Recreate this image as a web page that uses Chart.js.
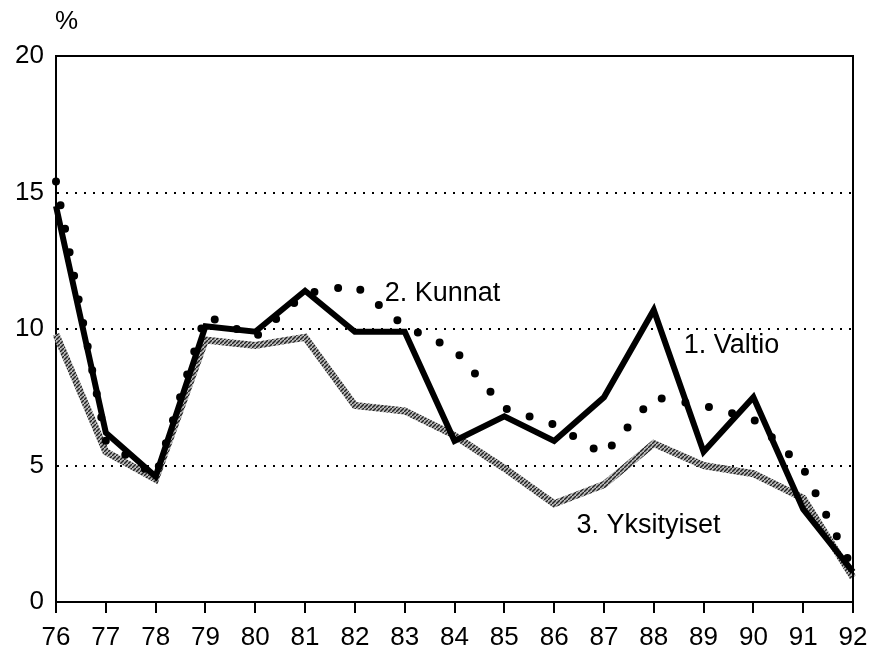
<!DOCTYPE html>
<html>
<head>
<meta charset="utf-8">
<script src="https://cdn.jsdelivr.net/npm/chart.js@4.4.0/dist/chart.umd.min.js"></script>
<style>
  body { margin: 0; background: #fff; }
  #wrap { width: 871px; height: 650px; }
</style>
</head>
<body>
<div id="wrap"><canvas id="lineChart"></canvas></div>
<script>
// vuodet 1976-1992
var years = ["76", "77", "78", "79", "80", "81", "82", "83", "84", "85", "86", "87", "88", "89", "90", "91", "92"];
var valtio = [14.5, 6.2, 4.6, 10.1, 9.9, 11.4, 9.9, 9.9, 5.9, 6.8, 5.9, 7.5, 10.7, 5.5, 7.5, 3.4, 1.1];
var kunnat = [15.4, 5.9, 4.6, 10.5, 9.7, 11.3, 11.6, 10.1, 9.25, 7.1, 6.5, 5.4, 7.5, 7.2, 6.7, 4.9, 1.2];
var yksityiset = [9.8, 5.5, 4.5, 9.6, 9.4, 9.7, 7.2, 7.0, 6.1, 4.9, 3.6, 4.3, 5.8, 5.0, 4.7, 3.8, 0.9];
var yTicks = [0, 5, 10, 15, 20];
var unitLabel = "%";
// line labels: text, x (category index), y (value)
var lineLabels = [
  { text: "2. Kunnat", x: 6.6, y: 11.3 },
  { text: "1. Valtio", x: 12.6, y: 9.4 },
  { text: "3. Yksityiset", x: 10.45, y: 2.8 }
];

var FONT = "'Liberation Sans', Arial, sans-serif";

function hatch() {
  var c = document.createElement("canvas");
  c.width = 4;
  c.height = 4;
  var g = c.getContext("2d");
  g.fillStyle = "#b8b8b8";
  g.fillRect(0, 0, 4, 4);
  g.strokeStyle = "#222";
  g.lineWidth = 1.4;
  g.beginPath();
  g.moveTo(-1, 5);
  g.lineTo(5, -1);
  g.stroke();
  return g.createPattern(c, "repeat");
}

var framePlugin = {
  id: "frame",
  afterDraw: function (chart) {
    var ctx = chart.ctx, a = chart.chartArea;
    ctx.save();
    ctx.strokeStyle = "#000";
    ctx.lineWidth = 2;
    ctx.beginPath();
    ctx.moveTo(a.left, a.top);
    ctx.lineTo(a.right, a.top);
    ctx.lineTo(a.right, a.bottom);
    ctx.stroke();

    ctx.fillStyle = "#000";
    ctx.font = "26px " + FONT;
    ctx.textBaseline = "middle";
    ctx.textAlign = "left";
    ctx.fillText(unitLabel, a.left - 1, 22);

    var xs = chart.scales.x, ys = chart.scales.y;
    ctx.font = "27px " + FONT;
    lineLabels.forEach(function (l) {
      ctx.fillText(l.text, xs.getPixelForValue(l.x), ys.getPixelForValue(l.y));
    });
    ctx.restore();
  }
};

var ctx = document.getElementById("lineChart").getContext("2d");
var myChart = new Chart(ctx, {
  type: "line",
  data: {
    labels: years,
    datasets: [
      {
        label: "2. Kunnat",
        data: kunnat,
        borderColor: "#000",
        borderWidth: 8,
        borderDash: [0, 24],
        borderCapStyle: "round",
        pointRadius: 0,
        tension: 0
      },
      {
        label: "1. Valtio",
        data: valtio,
        borderColor: "#000",
        borderWidth: 6,
        borderJoinStyle: "miter",
        pointRadius: 0,
        tension: 0
      },
      {
        label: "3. Yksityiset",
        data: yksityiset,
        borderColor: hatch(),
        borderWidth: 7,
        pointRadius: 0,
        tension: 0
      }
    ]
  },
  options: {
    responsive: true,
    maintainAspectRatio: false,
    animation: false,
    layout: { padding: { top: 56, right: 18, left: 0, bottom: 0 } },
    plugins: { legend: { display: false }, tooltip: { enabled: false } },
    scales: {
      x: {
        offset: false,
        grid: { drawOnChartArea: false, drawTicks: true, tickLength: 11, color: "#000", lineWidth: 2 },
        border: { display: true, color: "#000", width: 2 },
        ticks: { color: "#000", font: { family: FONT, size: 26 }, padding: 9, maxRotation: 0, autoSkip: false },
        afterFit: function (s) {
          s.height = 48;
          s.paddingLeft = 0;
          s.paddingRight = 0;
        }
      },
      y: {
        min: 0,
        max: 20,
        afterBuildTicks: function (s) { s.ticks = yTicks.map(function (v) { return { value: v }; }); },
        grid: {
          drawTicks: false,
          lineWidth: 2,
          color: function (c) { return c.tick && c.tick.value > 0 && c.tick.value < 20 ? "#000" : "rgba(0,0,0,0)"; }
        },
        border: { display: true, color: "#000", width: 2, dash: [2, 7] },
        ticks: { color: "#000", font: { family: FONT, size: 26 }, padding: 12 },
        afterFit: function (s) { s.width = 56; }
      }
    }
  },
  plugins: [framePlugin]
});
</script>
</body>
</html>
